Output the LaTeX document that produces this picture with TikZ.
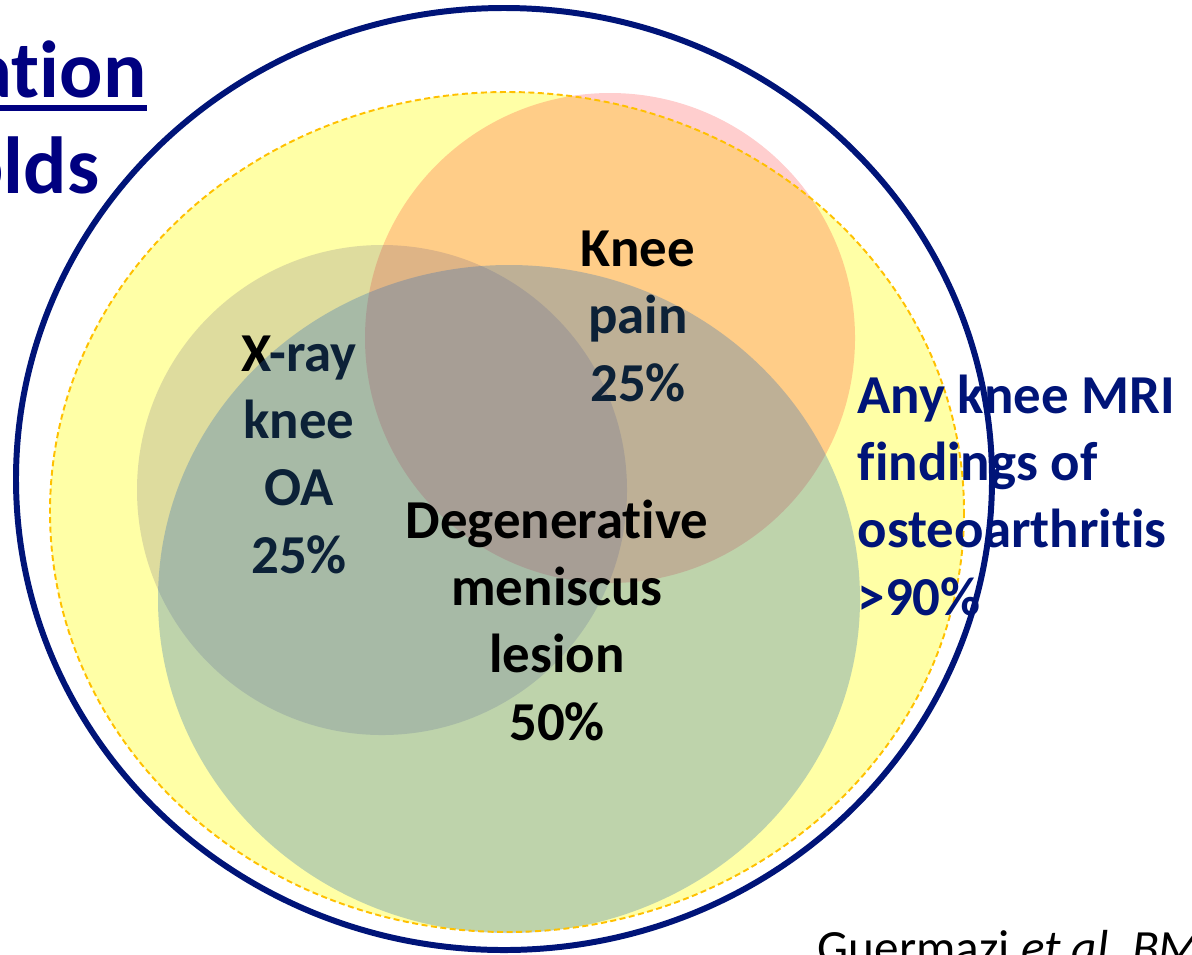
\documentclass[tikz,border=0pt]{standalone}
\usepackage{fontspec}
\setmainfont{Carlito}[RawFeature={-liga;-clig;-calt;-dlig}]
\usepackage{tikz}
\usetikzlibrary{positioning}

\definecolor{mriyellow}{RGB}{255,255,166}
\definecolor{painred}{RGB}{255,30,30}
\definecolor{xraygray}{RGB}{90,80,126}
\definecolor{menblue}{RGB}{40,110,185}
\definecolor{outline}{RGB}{255,192,0}
\definecolor{navyline}{RGB}{0,20,120}
\definecolor{titlenavy}{RGB}{0,0,128}

\begin{document}
\begin{tikzpicture}[x=0.01cm, y=-0.01cm,
    vlabel/.style={font=\bfseries\fontsize{15.6}{19.06}\selectfont, align=center, anchor=base, inner sep=0pt}]

    % =================================================================
    % 1. KHUNG VA TAM CAC HINH
    % =================================================================
    \useasboundingbox (0,0) rectangle (1192,954);
    \coordinate (O) at (504,479);
    \coordinate (Y) at (507,512);
    \coordinate (P) at (610,338);
    \coordinate (X) at (382,490);
    \coordinate (G) at (509,599);

    % =================================================================
    % 2. CAC VUNG TO MAU
    % =================================================================
    \fill[mriyellow] (Y) ellipse [x radius=457, y radius=420];
    \fill[painred, fill opacity=0.22] (P) circle [radius=245];
    \fill[xraygray, fill opacity=0.2] (X) circle [radius=245];

    % Nhan nam duoi lop xanh (neo tai dong cuoi)
    \node[vlabel] (pain) at (638,401) {Knee\\pain\\25\%};
    \node[vlabel] (xray) at (299,573) {X-ray\\knee\\OA\\25\%};

    \fill[menblue, fill opacity=0.3] (G) ellipse [x radius=351, y radius=334];

    \node[vlabel] (lesion) at (557,740) {Degenerative\\meniscus\\lesion\\50\%};

    % =================================================================
    % 3. DUONG VIEN
    % =================================================================
    \draw[outline, line width=0.55pt, dash pattern=on 1.7pt off 1pt] (Y) ellipse [x radius=457, y radius=420];
    \draw[navyline, line width=1.7pt] (O) ellipse [x radius=488, y radius=471];

    % =================================================================
    % 4. CHU
    % =================================================================
    \node[vlabel, align=left, anchor=base west, text=navyline] (mri) at (857,615)
        {Any knee MRI\\findings of\\osteoarthritis\\>90\%};

    \node[font=\bfseries\fontsize{23}{26}\selectfont, text=titlenavy, anchor=base east, inner sep=0pt] (ttl) at (147,97) {ation};
    \fill[titlenavy] ([yshift=-2.2pt]ttl.base west) rectangle ([yshift=-3.9pt]ttl.base east);
    \node[font=\bfseries\fontsize{23}{26}\selectfont, text=titlenavy, anchor=base east, inner sep=0pt] (ttl2) at (100,193) {olds};

    \node[font=\fontsize{14}{17}\selectfont, anchor=base west, inner sep=0pt] (ref) at (817,964) {Guermazi \textit{et al.\ BM}};

\end{tikzpicture}
\end{document}
